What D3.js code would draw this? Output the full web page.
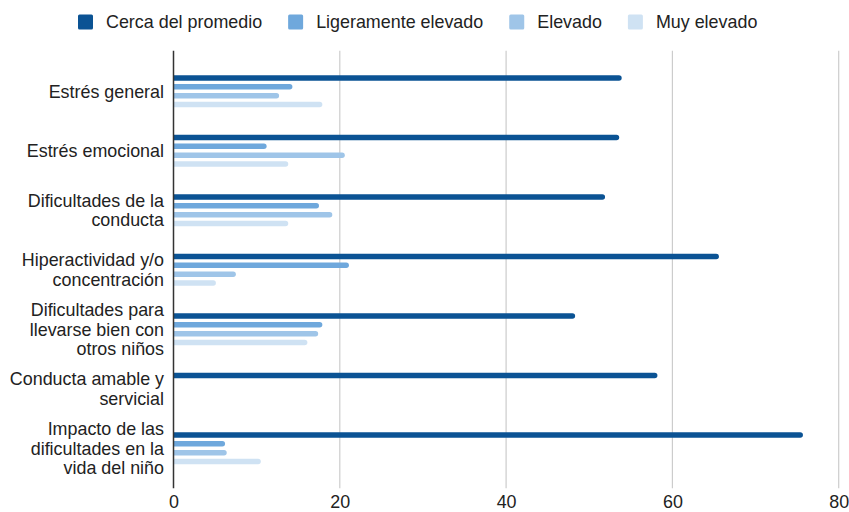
<!DOCTYPE html>
<html>
<head>
<meta charset="utf-8">
<script src="https://cdn.jsdelivr.net/npm/d3@7"></script>
<style>
  html, body { margin: 0; padding: 0; background: #fff; }
  svg { display: block; font-family: "Liberation Sans", Arial, Helvetica, sans-serif; }
</style>
</head>
<body>
<svg id="chart" width="849" height="512"></svg>
<script>
// Categories (line breaks mark how each label wraps)
const categories = [
  "Estrés general",
  "Estrés emocional",
  "Dificultades de la\nconducta",
  "Hiperactividad y/o\nconcentración",
  "Dificultades para\nllevarse bien con\notros niños",
  "Conducta amable y\nservicial",
  "Impacto de las\ndificultades en la\nvida del niño"
];

const seriesNames = ["Cerca del promedio", "Ligeramente elevado", "Elevado", "Muy elevado"];

const cercaDelPromedio   = [53.9, 53.6, 51.9, 65.6, 48.3, 58.2, 75.7];
const ligeramenteElevado = [14.3, 11.2, 17.5, 21.1, 17.9, 0, 6.2];
const elevado            = [12.7, 20.6, 19.1, 7.5, 17.4, 0, 6.4];
const muyElevado         = [17.9, 13.8, 13.8, 5.1, 16.1, 0, 10.5];

const xTicks = [0, 20, 40, 60, 80];

const seriesValues = [cercaDelPromedio, ligeramenteElevado, elevado, muyElevado];
const colors = ["#0b5394", "#6fa8dc", "#9fc5e8", "#cfe2f3"];

const fontSize = 17.9;
const svg = d3.select("#chart");

const x = d3.scaleLinear().domain([0, 80]).range([173.5, 838.7]);
const y = d3.scaleBand().domain(categories).range([61.5, 478]).padding(0);
const groupH = 35.3;
const inner = d3.scaleBand().domain(seriesNames).range([0, groupH]).paddingInner(0.38).paddingOuter(0.19);

const plotTop = 50.7, plotBottom = 488.3;

// Vertical gridlines
svg.append("g")
  .selectAll("line")
  .data(xTicks.filter(d => d !== 0))
  .join("line")
  .attr("x1", d => x(d)).attr("x2", d => x(d))
  .attr("y1", plotTop).attr("y2", plotBottom)
  .attr("stroke", "#cccccc")
  .attr("stroke-width", 1.2);

// Bars: square at the baseline, rounded at the tip
function roundedBar(x0, x1, yTop, h) {
  const r = h / 2;
  if (x1 - x0 <= 0) return "";
  const xe = Math.max(x0, x1 - r);
  return `M${x0},${yTop}H${xe}A${r},${r} 0 0 1 ${xe},${yTop + h}H${x0}Z`;
}

const rows = [];
categories.forEach((c, i) => {
  seriesNames.forEach((s, j) => {
    rows.push({ cat: c, series: s, value: seriesValues[j][i], color: colors[j] });
  });
});

svg.append("g")
  .selectAll("path")
  .data(rows.filter(d => d.value > 0))
  .join("path")
  .attr("d", d => {
    const yTop = y(d.cat) + (y.bandwidth() - groupH) / 2 + inner(d.series);
    return roundedBar(x(0), x(d.value), yTop, inner.bandwidth());
  })
  .attr("fill", d => d.color);

// Baseline axis
svg.append("line")
  .attr("x1", x(0)).attr("x2", x(0))
  .attr("y1", plotTop).attr("y2", plotBottom)
  .attr("stroke", "#333333")
  .attr("stroke-width", 1.5);

// X tick labels
const xAxis = d3.axisBottom(x).tickValues(xTicks).tickSize(0).tickPadding(0).tickFormat(d3.format("d"));
const gx = svg.append("g").attr("transform", `translate(0, 495)`).call(xAxis);
gx.select(".domain").remove();
gx.selectAll("text")
  .attr("font-size", fontSize)
  .attr("font-family", "'Liberation Sans', Arial, sans-serif")
  .attr("fill", "#222")
  .attr("dy", "0.71em")
  .attr("y", 0);

// Category labels (multi-line, right aligned)
const lineH = 19.6;
const labels = svg.append("g")
  .selectAll("text")
  .data(categories)
  .join("text")
  .attr("text-anchor", "end")
  .attr("font-size", fontSize)
  .attr("fill", "#222");

labels.each(function (d) {
  const lines = d.split("\n");
  const cy = y(d) + y.bandwidth() / 2;
  const startY = cy - (lines.length - 1) * lineH / 2;
  d3.select(this).selectAll("tspan")
    .data(lines)
    .join("tspan")
    .attr("x", 164)
    .attr("y", (l, k) => startY + k * lineH)
    .attr("dy", "0.35em")
    .text(l => l);
});

// Legend
const legend = svg.append("g").attr("transform", "translate(78, 22)");
let lx = 0;
seriesNames.forEach((s, j) => {
  const g = legend.append("g").attr("transform", `translate(${lx},0)`);
  g.append("rect")
    .attr("x", 0).attr("y", -7.5)
    .attr("width", 15).attr("height", 15)
    .attr("rx", 1.5)
    .attr("fill", colors[j]);
  const t = g.append("text")
    .attr("x", 28).attr("y", 0).attr("dy", "0.35em")
    .attr("font-size", fontSize)
    .attr("fill", "#222")
    .text(s);
  const w = t.node().getComputedTextLength();
  lx += 28 + w + 26;
});
</script>
</body>
</html>
